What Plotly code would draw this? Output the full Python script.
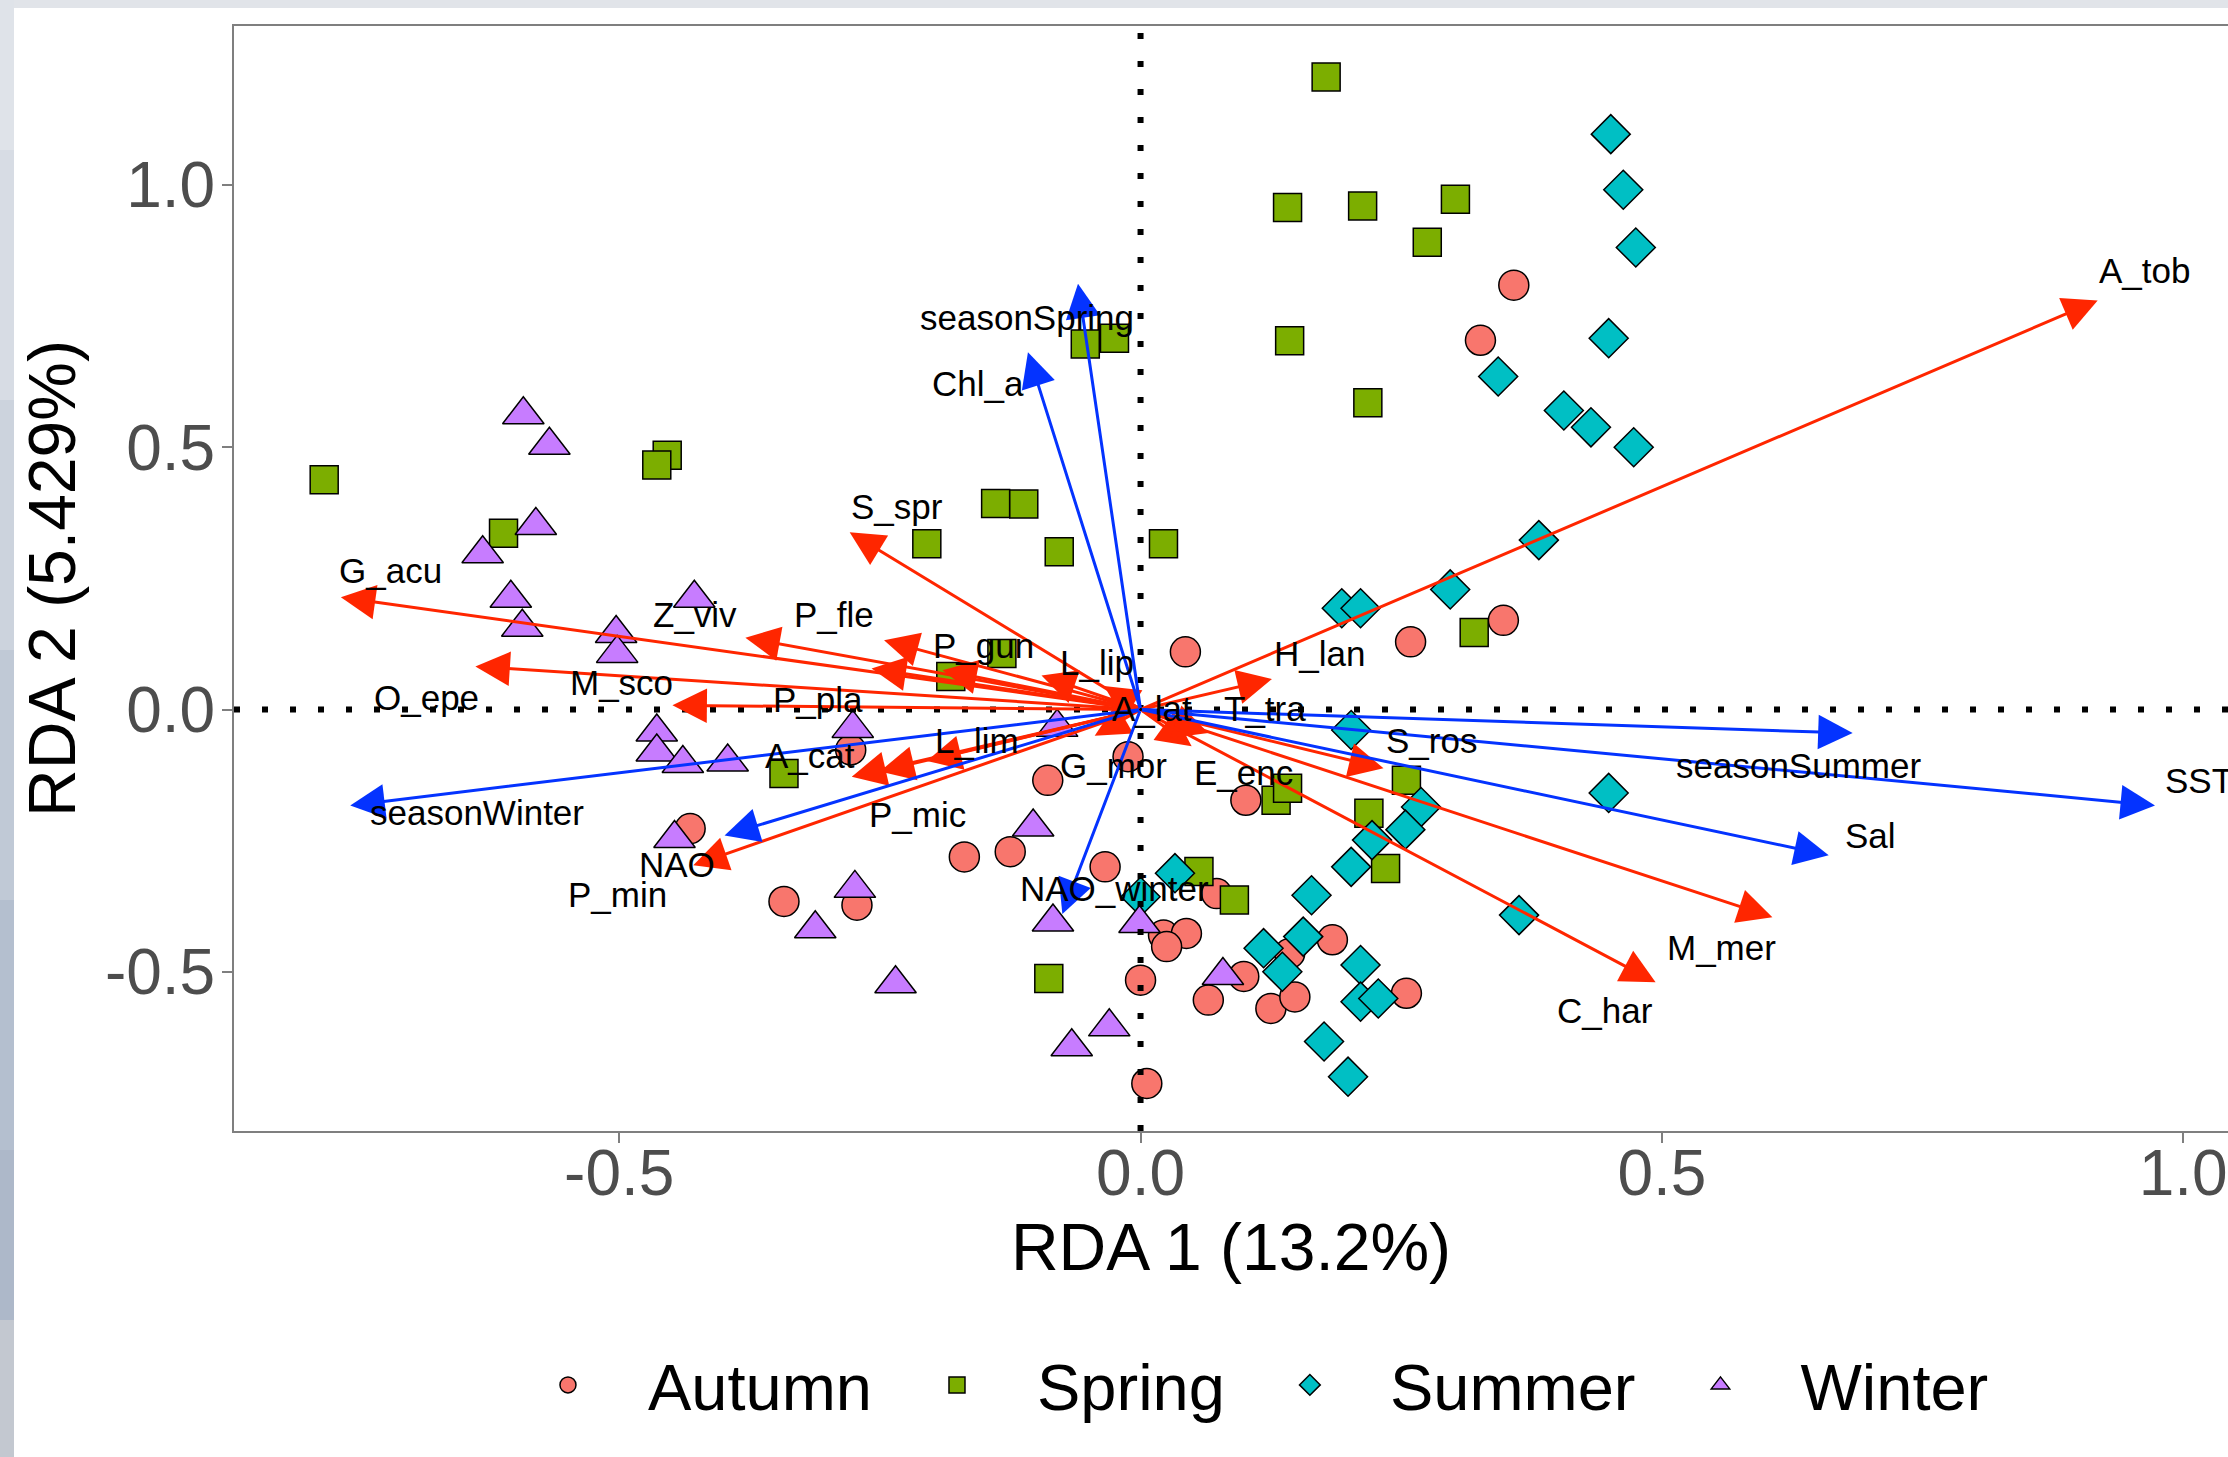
import plotly.graph_objects as go

# ------------------------------------------------------------------ data
seasons = ["Autumn", "Spring", "Summer", "Winter"]

autumn_x = [0.358, 0.326, 0.348, 0.259, 0.043, -0.012, -0.089, 0.101, -0.169, -0.125,
            -0.034, 0.073, 0.022, 0.044, 0.025, 0.099, 0.000, 0.065, 0.125, 0.148,
            0.143, 0.184, 0.255, 0.006, -0.278, -0.432, -0.342, -0.272]
autumn_y = [0.809, 0.704, 0.170, 0.129, 0.110, -0.090, -0.135, -0.173, -0.281, -0.271,
            -0.300, -0.351, -0.430, -0.427, -0.452, -0.509, -0.516, -0.554, -0.570, -0.548,
            -0.465, -0.439, -0.541, -0.713, -0.077, -0.227, -0.366, -0.373]

spring_x = [0.178, 0.141, 0.213, 0.302, 0.275, 0.143, 0.218, -0.053, -0.025, -0.139,
            -0.112, -0.205, -0.078, 0.022, -0.133, -0.182, -0.783, -0.454, -0.464, -0.611,
            -0.342, 0.320, 0.255, 0.219, 0.235, 0.130, 0.141, 0.056, 0.090, -0.088]
spring_y = [1.206, 0.957, 0.960, 0.973, 0.891, 0.703, 0.585, 0.697, 0.708, 0.393,
            0.392, 0.316, 0.301, 0.316, 0.107, 0.063, 0.438, 0.485, 0.466, 0.336,
            -0.122, 0.147, -0.135, -0.198, -0.303, -0.173, -0.150, -0.309, -0.363, -0.513]

summer_x = [0.451, 0.463, 0.475, 0.449, 0.343, 0.406, 0.432, 0.473, 0.382, 0.297,
            0.193, 0.211, 0.202, 0.449, 0.363, 0.269, 0.254, 0.222, 0.202, 0.164,
            0.000, 0.033, 0.118, 0.156, 0.136, 0.211, 0.211, 0.228, 0.176, 0.199]
summer_y = [1.097, 0.991, 0.881, 0.708, 0.635, 0.570, 0.538, 0.500, 0.323, 0.229,
            0.193, 0.193, -0.039, -0.159, -0.392, -0.186, -0.229, -0.249, -0.300, -0.354,
            -0.357, -0.312, -0.455, -0.433, -0.500, -0.487, -0.557, -0.551, -0.633, -0.700]

winter_x = [-0.592, -0.567, -0.580, -0.631, -0.604, -0.593, -0.428, -0.503, -0.502, -0.464,
            -0.464, -0.439, -0.396, -0.276, -0.447, -0.274, -0.312, -0.235, -0.103, -0.084,
            -0.001, 0.079, -0.030, -0.066, -0.080]
winter_y = [0.562, 0.504, 0.351, 0.297, 0.212, 0.157, 0.212, 0.145, 0.107, -0.043,
            -0.081, -0.103, -0.100, -0.036, -0.246, -0.341, -0.418, -0.523, -0.224, -0.405,
            -0.408, -0.507, -0.605, -0.643, -0.034]

# species (response) arrows
species_names = ["A_tob", "G_acu", "O_epe", "Z_viv", "P_fle", "P_gun", "P_pla", "M_sco",
                 "L_lip", "S_spr", "A_cat", "P_mic", "L_lim", "P_min", "G_mor", "E_enc",
                 "T_tra", "H_lan", "S_ros", "M_mer", "C_har", "A_lat"]
species_x = [0.918, -0.767, -0.638, -0.379, -0.246, -0.190, -0.258, -0.449,
             -0.095, -0.279, -0.277, -0.250, -0.205, -0.429, -0.044, 0.049,
             0.065, 0.126, 0.233, 0.606, 0.494, -0.035]
species_y = [0.780, 0.214, 0.082, 0.137, 0.132, 0.075, 0.078, 0.008,
             0.065, 0.338, -0.128, -0.118, -0.098, -0.297, -0.050, -0.070,
             -0.045, 0.058, -0.112, -0.396, -0.520, 0.045]
species_label_x = [0.963, -0.719, -0.685, -0.427, -0.294, -0.151, -0.309, -0.498,
                   -0.042, -0.234, -0.317, -0.214, -0.157, -0.502, -0.026, 0.099,
                   0.119, 0.172, 0.279, 0.557, 0.445, 0.011]
species_label_y = [0.837, 0.265, 0.022, 0.182, 0.181, 0.122, 0.020, 0.051,
                   0.090, 0.387, -0.088, -0.200, -0.059, -0.352, -0.107, -0.120,
                   0.001, 0.106, -0.060, -0.453, -0.574, 0.001]

# environmental (explanatory) arrows
env_names = ["seasonSpring", "Chl_a", "seasonSummer", "SST", "Sal", "seasonWinter",
             "NAO", "NAO_winter"]
env_x = [-0.060, -0.108, 0.683, 0.973, 0.660, -0.758, -0.399, -0.075]
env_y = [0.812, 0.681, -0.045, -0.183, -0.278, -0.183, -0.240, -0.390]
env_label_x = [-0.109, -0.156, 0.631, 1.015, 0.700, -0.636, -0.445, -0.025]
env_label_y = [0.748, 0.621, -0.106, -0.135, -0.240, -0.196, -0.296, -0.342]

origin_x = 0.0
origin_y = 0.0

x_tick_vals = [-0.5, 0.0, 0.5, 1.0]
x_tick_text = ["-0.5", "0.0", "0.5", "1.0"]
y_tick_vals = [-0.5, 0.0, 0.5, 1.0]
y_tick_text = ["-0.5", "0.0", "0.5", "1.0"]
x_title = "RDA 1 (13.2%)"
y_title = "RDA 2 (5.429%)"

# ------------------------------------------------------------------ style
W, H = 2228, 1457
ML, MR, MT, MB = 234, 0, 26, 326
FONT = "Liberation Sans, Arial, Helvetica, sans-serif"
RED = "#FF2600"
BLUE = "#0433FF"
season_style = {
    "Autumn": dict(color="#F8766D", symbol="circle", size=30),
    "Spring": dict(color="#7CAE00", symbol="square", size=28),
    "Summer": dict(color="#00BFC4", symbol="diamond", size=30),
    "Winter": dict(color="#C77CFF", symbol="triangle-up", size=36),
}
season_data = {
    "Autumn": (autumn_x, autumn_y),
    "Spring": (spring_x, spring_y),
    "Summer": (summer_x, summer_y),
    "Winter": (winter_x, winter_y),
}

fig = go.Figure()
for s in seasons:
    xs, ys = season_data[s]
    st = season_style[s]
    fig.add_trace(go.Scatter(
        x=xs, y=ys, mode="markers", name=s,
        marker=dict(color=st["color"], symbol=st["symbol"], size=st["size"],
                    line=dict(color="black", width=1.5)),
        cliponaxis=False,
    ))

# dotted reference lines through the origin
dot = dict(color="black", width=6, dash="6px,22px")
fig.add_shape(type="line", xref="x", yref="paper", x0=origin_x, x1=origin_x, y0=0, y1=1,
              line=dot, layer="above")
fig.add_shape(type="line", xref="paper", yref="y", x0=0, x1=1, y0=origin_y, y1=origin_y,
              line=dot, layer="above")

# screenshot frame strips (top and left)
pw = W - ML - MR
ph = H - MT - MB


def px_x(p):
    return (p - ML) / pw


def px_y(p):
    return (H - MB - p) / ph


fig.add_shape(type="rect", xref="paper", yref="paper", x0=px_x(0), x1=px_x(W),
              y0=px_y(0), y1=px_y(8), fillcolor="#e1e4e9", line=dict(width=0), layer="above")
bands = [(0, 150, "#dfe3e9"), (150, 400, "#d7dce4"), (400, 650, "#ccd3dd"),
         (650, 900, "#c0c9d6"), (900, 1150, "#b4bfcf"), (1150, 1320, "#adb8c9"),
         (1320, 1457, "#c3c8d0")]
for a, b, c in bands:
    fig.add_shape(type="rect", xref="paper", yref="paper", x0=px_x(0), x1=px_x(14),
                  y0=px_y(a), y1=px_y(b), fillcolor=c, line=dict(width=0), layer="above")

# arrows
for xs, ys, col in ((species_x, species_y, RED), (env_x, env_y, BLUE)):
    for tx, ty in zip(xs, ys):
        fig.add_annotation(x=tx, y=ty, ax=origin_x, ay=origin_y, xref="x", yref="y",
                           axref="x", ayref="y", text="", showarrow=True,
                           arrowhead=2, arrowsize=2.3, arrowwidth=3, arrowcolor=col,
                           standoff=0, startstandoff=0)

# arrow labels
for names, lx, ly in ((species_names, species_label_x, species_label_y),
                      (env_names, env_label_x, env_label_y)):
    for n, x, y in zip(names, lx, ly):
        fig.add_annotation(x=x, y=y, xref="x", yref="y", text=n, showarrow=False,
                           xanchor="center", yanchor="middle",
                           font=dict(family=FONT, size=35, color="black"))

axis_common = dict(
    showgrid=False, zeroline=False, ticks="outside", ticklen=10, tickwidth=2,
    tickcolor="#7f7f7f", linecolor="#7f7f7f", linewidth=2, showline=True,
    tickfont=dict(family=FONT, size=64, color="#4d4d4d"),
)
fig.update_layout(
    width=W, height=H,
    margin=dict(l=ML, r=MR, t=MT, b=MB, pad=0),
    paper_bgcolor="white", plot_bgcolor="white",
    font=dict(family=FONT),
    xaxis=dict(range=[-0.8695, 1.043], tickvals=x_tick_vals, ticktext=x_tick_text,
               mirror=True, ticklabelstandoff=-25,
               title=dict(text=x_title, font=dict(family=FONT, size=66, color="black"),
                          standoff=16),
               **axis_common),
    yaxis=dict(range=[-0.8036, 1.3032], tickvals=y_tick_vals, ticktext=y_tick_text,
               ticklabelstandoff=-6,
               title=dict(text=y_title, font=dict(family=FONT, size=66, color="black"),
                          standoff=8),
               **axis_common),
    showlegend=True,
    legend=dict(orientation="h", x=0.505, xanchor="center", y=-0.23, yanchor="middle",
                font=dict(family=FONT, size=65, color="black"), itemwidth=150,
                bgcolor="rgba(0,0,0,0)"),
)

fig.write_html("out.html",
               config={"displayModeBar": False},
               post_script="document.body.style.margin='0px';"
                           "document.body.style.overflow='hidden';")
